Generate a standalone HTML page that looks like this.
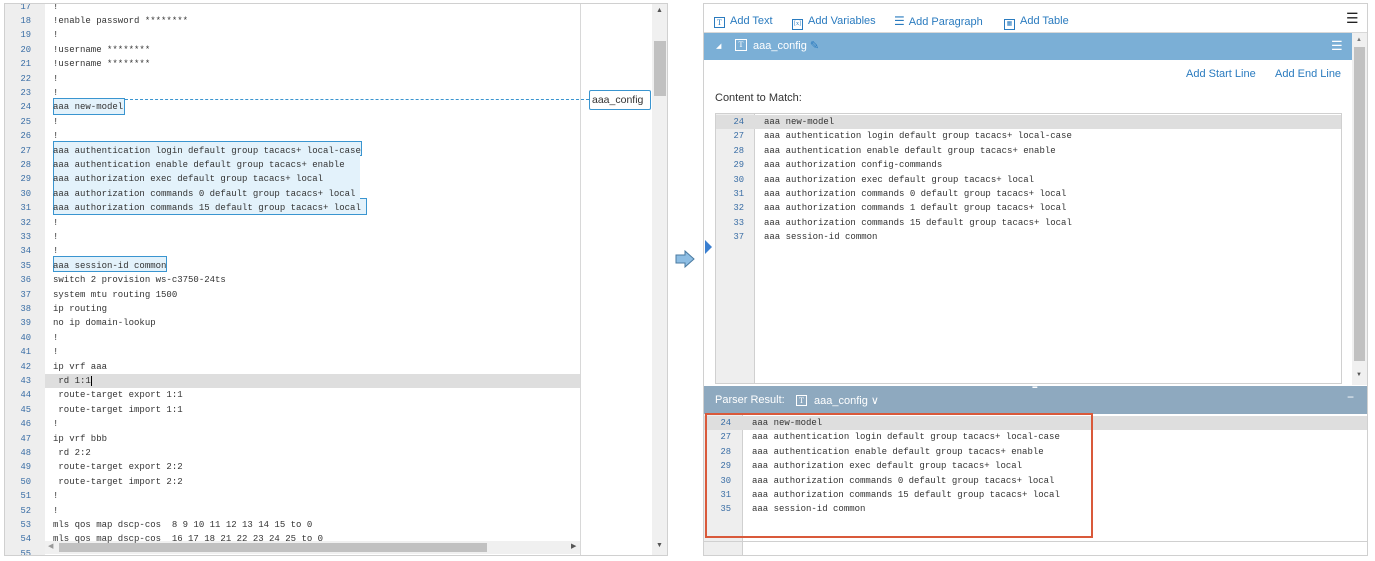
<!DOCTYPE html>
<html><head><meta charset="utf-8"><style>
*{margin:0;padding:0;box-sizing:border-box}
body{width:1375px;height:561px;background:#fff;position:relative;overflow:hidden;font-family:"Liberation Sans",sans-serif}
.a{position:absolute}
.m{font-family:"Liberation Mono",monospace;font-size:9px;color:#333;white-space:pre}
.ln{font-family:"Liberation Mono",monospace;font-size:8.8px;color:#3a6ea5;text-align:right;white-space:pre}
.row{position:absolute;height:14.4px;line-height:14.4px}
.hl{position:absolute;background:#e3f2fb;border:1px solid #3a95d0}
.tb{position:absolute;top:9px;font-size:11px;color:#2a7bbf;line-height:16px}
.ic{display:inline-block;width:11px;height:11px;border:1px solid #2a7bbf;font-size:8px;line-height:9px;text-align:center;vertical-align:-1px;margin-right:5px;font-family:"Liberation Serif",serif}
</style></head><body>

<div class="a" style="left:4px;top:3px;width:664px;height:553px;border:1px solid #d0d0d0;overflow:hidden">
  <div class="a" style="left:0;top:0;width:40px;height:553px;background:#eeeeee"></div>
  <div class="a" style="left:575px;top:0;width:1px;height:553px;background:#d8d8d8"></div>
  <div class="a" style="left:647px;top:0;width:16px;height:553px;background:#f0f0f0"></div>
  <div class="a" style="left:649px;top:37px;width:12px;height:55px;background:#c1c1c1"></div>
  <div class="a" style="left:651px;top:3px;font-size:7px;color:#555">▲</div>
  <div class="a" style="left:651px;top:538px;font-size:7px;color:#555">▼</div>
  <div class="a" style="left:40px;top:370px;width:535px;height:14px;background:#dedede"></div>
  <div class="hl" style="left:48px;top:94px;width:72px;height:17px"></div>
  <div class="hl" style="left:48px;top:137px;width:309px;height:15px"></div>
  <div class="hl" style="left:48px;top:151px;width:293px;height:15px"></div>
  <div class="hl" style="left:48px;top:165px;width:276px;height:16px"></div>
  <div class="hl" style="left:48px;top:180px;width:306px;height:15px"></div>
  <div class="hl" style="left:48px;top:194px;width:314px;height:17px"></div>
  <div class="a" style="left:49px;top:138px;width:306px;height:72px;background:#e3f2fb"></div>
  <div class="hl" style="left:48px;top:252px;width:114px;height:16px"></div>
  <div class="a" style="left:120px;top:95px;width:464px;border-top:1px dashed #3a95d0"></div>
  <div class="a" style="left:584px;top:86px;width:62px;height:20px;border:1px solid #3a95d0;border-radius:2px;background:#fff;font-size:10.5px;line-height:18px;padding-left:2px;color:#333">aaa_config</div>
  <div class="a" style="left:40px;top:537px;width:535px;height:13px;background:#f0f0f0"></div>
  <div class="a" style="left:54px;top:539px;width:428px;height:9px;background:#c1c1c1"></div>
  <div class="a" style="left:43px;top:538px;font-size:7px;color:#999">◀</div>
  <div class="a" style="left:566px;top:538px;font-size:7px;color:#555">▶</div>
  <div id="L"></div>
</div>

<svg class="a" style="left:674px;top:249px" width="24" height="20"><path d="M2 6 H11 V2 L20 10 L11 18 V14 H2 Z" fill="#8dbde3" stroke="#4a7aa0" stroke-width="1"/></svg>

<div class="a" style="left:703px;top:3px;width:665px;height:553px;border:1px solid #d0d0d0;overflow:hidden">
  <div class="tb" style="left:10px"><span class="ic">T</span>Add Text</div>
  <div class="tb" style="left:88px"><span class="ic" style="font-size:6px">[x]</span>Add Variables</div>
  <div class="tb" style="left:190px"><span style="font-size:12px;margin-right:4px">☰</span>Add Paragraph</div>
  <div class="tb" style="left:300px"><span class="ic" style="font-size:6px">▦</span>Add Table</div>
  <div class="a" style="left:642px;top:6px;font-size:14px;color:#222">☰</div>
  <div class="a" style="left:0;top:28px;width:664px;height:1px;background:#d8d8d8"></div>
  <div class="a" style="left:0;top:29px;width:648px;height:27px;background:#7bafd6"></div>
  <div class="a" style="left:12px;top:38px;font-size:7px;color:#fff">◢</div>
  <div class="a" style="left:31px;top:35px;width:12px;height:12px;border:1px solid #fff;color:#fff;font-size:8px;line-height:10px;text-align:center;font-family:'Liberation Serif',serif">T</div>
  <div class="a" style="left:49px;top:34px;font-size:11px;color:#fff;line-height:16px">aaa_config <span style="color:#2a7bbf">✎</span></div>
  <div class="a" style="left:627px;top:34px;font-size:13px;color:#fff">☰</div>
  <div class="a" style="left:648px;top:29px;width:16px;height:352px;background:#f0f0f0"></div>
  <div class="a" style="left:650px;top:43px;width:11px;height:314px;background:#c1c1c1"></div>
  <div class="a" style="left:652px;top:33px;font-size:6px;color:#777">▲</div>
  <div class="a" style="left:652px;top:368px;font-size:6px;color:#555">▼</div>
  <div class="a" style="left:482px;top:64px;font-size:11px;color:#2a7bbf">Add Start Line</div>
  <div class="a" style="left:571px;top:64px;font-size:11px;color:#2a7bbf">Add End Line</div>
  <div class="a" style="left:11px;top:88px;font-size:11px;color:#333">Content to Match:</div>
  <div class="a" style="left:11px;top:109px;width:627px;height:271px;border:1px solid #d0d0d0;overflow:hidden">
    <div class="a" style="left:0;top:0;width:39px;height:271px;background:#eeeeee;border-right:1px solid #d0d0d0"></div>
    <div class="a" style="left:0;top:1px;width:627px;height:14px;background:#dedede"></div>
    <div id="C"></div>
  </div>
  <div class="a" style="left:0;top:382px;width:664px;height:28px;background:#8ea9bf"></div>
  <div class="a" style="left:328px;top:381px;font-size:6px;color:#fff;letter-spacing:-1px">▪▪▪▪</div>
  <div class="a" style="left:11px;top:390px;font-size:11px;color:#fff">Parser Result:</div>
  <div class="a" style="left:92px;top:391px;width:11px;height:11px;border:1px solid #fff;color:#fff;font-size:8px;line-height:9px;text-align:center;font-family:'Liberation Serif',serif">T</div>
  <div class="a" style="left:110px;top:390px;font-size:11px;color:#fff">aaa_config ∨</div>
  <div class="a" style="left:643px;top:386px;font-size:12px;color:#fff">−</div>
  <div class="a" style="left:0;top:410px;width:39px;height:143px;background:#eeeeee;border-right:1px solid #d0d0d0"></div>
  <div class="a" style="left:0;top:412px;width:664px;height:14px;background:#dedede"></div>
  <div class="a" style="left:0;top:537px;width:664px;height:1px;background:#d0d0d0"></div>
  <div id="P"></div>
  <div class="a" style="left:1px;top:409px;width:388px;height:125px;border:2px solid #d9593a"></div>
</div>
<div class="a" style="left:705px;top:240px;width:0;height:0;border-top:7px solid transparent;border-bottom:7px solid transparent;border-left:7px solid #3a7fd0"></div>

<script>
function rows(id,data,top,lnLeft,lnW,txLeft){var h='';for(var i=0;i<data.length;i++){var t=top+i*14.4;h+='<div class="row ln" style="left:'+lnLeft+'px;width:'+lnW+'px;top:'+t+'px">'+data[i][0]+'</div><div class="row m" style="left:'+txLeft+'px;top:'+t+'px">'+data[i][1]+'</div>';}document.getElementById(id).innerHTML=h;}
var L=[[17,'!'],[18,'!enable password ********'],[19,'!'],[20,'!username ********'],[21,'!username ********'],[22,'!'],[23,'!'],[24,'aaa new-model'],[25,'!'],[26,'!'],[27,'aaa authentication login default group tacacs+ local-case'],[28,'aaa authentication enable default group tacacs+ enable'],[29,'aaa authorization exec default group tacacs+ local'],[30,'aaa authorization commands 0 default group tacacs+ local'],[31,'aaa authorization commands 15 default group tacacs+ local'],[32,'!'],[33,'!'],[34,'!'],[35,'aaa session-id common'],[36,'switch 2 provision ws-c3750-24ts'],[37,'system mtu routing 1500'],[38,'ip routing'],[39,'no ip domain-lookup'],[40,'!'],[41,'!'],[42,'ip vrf aaa'],[43,' rd 1:1<span style="border-left:1px solid #000"></span>'],[44,' route-target export 1:1'],[45,' route-target import 1:1'],[46,'!'],[47,'ip vrf bbb'],[48,' rd 2:2'],[49,' route-target export 2:2'],[50,' route-target import 2:2'],[51,'!'],[52,'!'],[53,'mls qos map dscp-cos  8 9 10 11 12 13 14 15 to 0'],[54,'mls qos map dscp-cos  16 17 18 21 22 23 24 25 to 0'],[55,'']];
rows('L',L,-4.5,0,26,48);
var C=[[24,'aaa new-model'],[27,'aaa authentication login default group tacacs+ local-case'],[28,'aaa authentication enable default group tacacs+ enable'],[29,'aaa authorization config-commands'],[30,'aaa authorization exec default group tacacs+ local'],[31,'aaa authorization commands 0 default group tacacs+ local'],[32,'aaa authorization commands 1 default group tacacs+ local'],[33,'aaa authorization commands 15 default group tacacs+ local'],[37,'aaa session-id common']];
rows('C',C,1,0,28,48);
var P=[[24,'aaa new-model'],[27,'aaa authentication login default group tacacs+ local-case'],[28,'aaa authentication enable default group tacacs+ enable'],[29,'aaa authorization exec default group tacacs+ local'],[30,'aaa authorization commands 0 default group tacacs+ local'],[31,'aaa authorization commands 15 default group tacacs+ local'],[35,'aaa session-id common']];
rows('P',P,412,0,27,48);
</script>
</body></html>
